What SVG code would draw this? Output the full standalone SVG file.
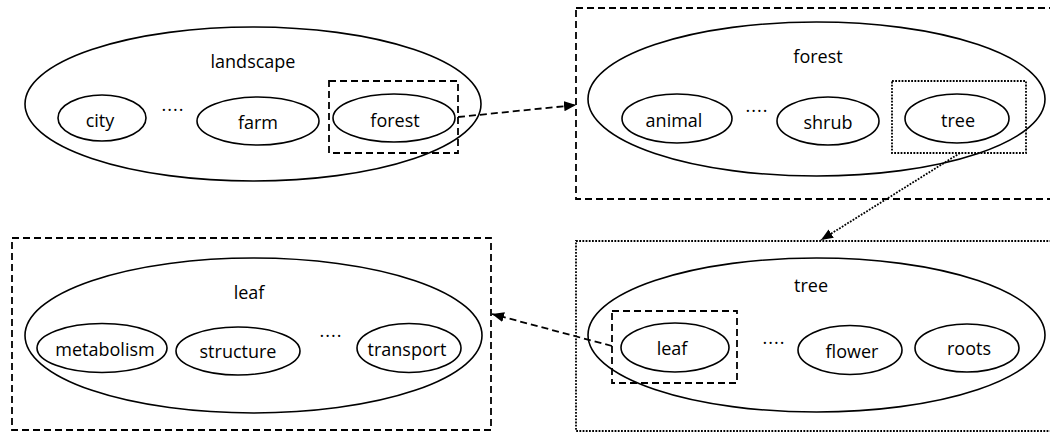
<svg xmlns="http://www.w3.org/2000/svg" width="1050" height="434" viewBox="0 0 1050 434">
<style>
  .bg{fill:#fff}
  .ell{fill:none;stroke:#000;stroke-width:1.6}
  .dash{fill:none;stroke:#000;stroke-width:1.8;stroke-dasharray:7,4}
  .dot{fill:none;stroke:#000;stroke-width:1.8;stroke-dasharray:1.8,1.4}
  .t{font-family:"Open Sans","Noto Sans","Liberation Sans",sans-serif;font-size:18px;fill:#000;text-anchor:middle}
  .dots{font-family:"Open Sans","Liberation Sans",sans-serif;font-size:18px;fill:#000;text-anchor:middle;letter-spacing:1px}
</style>
<defs>
  <marker id="ah" markerUnits="userSpaceOnUse" markerWidth="13" markerHeight="11" refX="12" refY="5" orient="auto">
    <path d="M0,0 L12,5 L0,10 Z" fill="#000"/>
  </marker>
</defs>
<rect class="bg" x="0" y="0" width="1050" height="434"/>

<g id="landscape">
  <ellipse class="ell" cx="253" cy="104" rx="228" ry="77"/>
  <text class="t" x="253" y="68">landscape</text>
  <ellipse class="ell" cx="102" cy="118" rx="44" ry="23"/>
  <text class="t" x="100" y="127">city</text>
  <text class="dots" x="173" y="116">····</text>
  <ellipse class="ell" cx="258" cy="121" rx="61" ry="24"/>
  <text class="t" x="258" y="129">farm</text>
  <ellipse class="ell" cx="394" cy="118" rx="61" ry="24"/>
  <text class="t" x="395" y="127">forest</text>
  <rect class="dash" x="329" y="81" width="129" height="72"/>
</g>

<g id="forest">
  <rect class="dash" x="576" y="8" width="490" height="191"/>
  <ellipse class="ell" cx="816.5" cy="99" rx="228.5" ry="77"/>
  <text class="t" x="818" y="63">forest</text>
  <ellipse class="ell" cx="677" cy="118.5" rx="55" ry="24.5"/>
  <text class="t" x="674" y="127">animal</text>
  <text class="dots" x="757" y="117">····</text>
  <ellipse class="ell" cx="828" cy="121" rx="51" ry="24"/>
  <text class="t" x="828" y="129">shrub</text>
  <ellipse class="ell" cx="957" cy="118.5" rx="52" ry="24.5"/>
  <text class="t" x="958" y="127">tree</text>
  <rect class="dot" x="892" y="81" width="134" height="72"/>
</g>

<g id="tree">
  <rect class="dot" x="576" y="241" width="490" height="190"/>
  <ellipse class="ell" cx="816.5" cy="335" rx="228.5" ry="77"/>
  <text class="t" x="811" y="292">tree</text>
  <ellipse class="ell" cx="675" cy="347.5" rx="54" ry="24.5"/>
  <text class="t" x="672" y="355">leaf</text>
  <rect class="dash" x="612" y="311" width="125" height="72"/>
  <text class="dots" x="774" y="349">····</text>
  <ellipse class="ell" cx="850" cy="350" rx="52" ry="24.5"/>
  <text class="t" x="852" y="358">flower</text>
  <ellipse class="ell" cx="967" cy="348" rx="52" ry="24"/>
  <text class="t" x="969" y="355">roots</text>
</g>

<g id="leaf">
  <rect class="dash" x="12" y="238" width="479" height="192"/>
  <ellipse class="ell" cx="253.5" cy="335.5" rx="228.5" ry="77.5"/>
  <text class="t" x="249" y="299">leaf</text>
  <ellipse class="ell" cx="102" cy="348" rx="65" ry="24.5"/>
  <text class="t" x="105" y="356">metabolism</text>
  <ellipse class="ell" cx="238" cy="351" rx="62" ry="24"/>
  <text class="t" x="238" y="358">structure</text>
  <text class="dots" x="331" y="342">····</text>
  <ellipse class="ell" cx="409" cy="348" rx="52" ry="24.5"/>
  <text class="t" x="407" y="356">transport</text>
</g>

<g id="connectors">
  <line class="dash" x1="458" y1="117" x2="576" y2="105" stroke-dasharray="6,4" marker-end="url(#ah)"/>
  <line class="dot" x1="960" y1="153" x2="821" y2="240" marker-end="url(#ah)"/>
  <line class="dash" x1="612" y1="346" x2="492" y2="314" stroke-dasharray="6,4" marker-end="url(#ah)"/>
</g>
</svg>
